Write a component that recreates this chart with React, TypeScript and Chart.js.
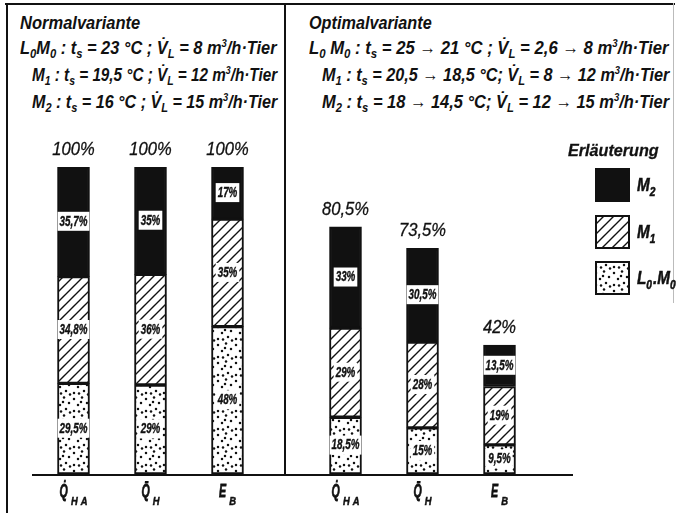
import React, { useEffect, useRef } from "react";
import { Chart, registerables } from "chart.js";
Chart.register(...registerables);

// ---------- data ----------
const categoryMain = ["Q\u0307", "Q\u0304", "E"];
const categorySub = ["HA", "H", "B"];

const normalL0M0 = [29.5, 29, 48];
const normalM1 = [34.8, 36, 35];
const normalM2 = [35.7, 35, 17];

const optimalL0M0 = [18.5, 15, 9.5];
const optimalM1 = [29, 28, 19];
const optimalM2 = [33, 30.5, 13.5];

const yMin = 0;
const yMax = 100;

// legend entries (top to bottom): parts of [text, isSubscript]
const legendTitle = "Erläuterung";
const legendEntries: [string, boolean][][] = [
  [["M", false], ["2", true]],
  [["M", false], ["1", true]],
  [["L", false], ["0", true], [".M", false], ["0", true]],
];

const FONT = '"Liberation Sans", Arimo, "DejaVu Sans", sans-serif';
const INK = "#111";

const fmt = (v: number) => (Math.round(v * 10) / 10).toString().replace(".", ",");

function makeHatch(): CanvasPattern | string {
  const s = 10;
  const c = document.createElement("canvas");
  c.width = s;
  c.height = s;
  const g = c.getContext("2d")!;
  g.fillStyle = "#fff";
  g.fillRect(0, 0, s, s);
  g.strokeStyle = INK;
  g.lineWidth = 1.4;
  g.beginPath();
  g.moveTo(-1, s + 1);
  g.lineTo(s + 1, -1);
  g.moveTo(-2, 2);
  g.lineTo(2, -2);
  g.moveTo(s - 2, s + 2);
  g.lineTo(s + 2, s - 2);
  g.stroke();
  return g.createPattern(c, "repeat") || "#fff";
}

function makeDots(): CanvasPattern | string {
  const s = 18;
  const c = document.createElement("canvas");
  c.width = s;
  c.height = s;
  const g = c.getContext("2d")!;
  g.fillStyle = "#fff";
  g.fillRect(0, 0, s, s);
  g.fillStyle = INK;
  const pts = [
    [2, 3], [10, 1.5], [15, 7], [6, 9], [12, 13], [2, 15], [9, 6], [16, 16.5], [7, 15.5],
  ];
  for (const [x, y] of pts) {
    g.beginPath();
    g.arc(x, y, 1.25, 0, Math.PI * 2);
    g.fill();
  }
  return g.createPattern(c, "repeat") || "#fff";
}

// draw text horizontally condensed by factor sx (optionally emboldened)
function fillScaled(ctx: CanvasRenderingContext2D, text: string, x: number, y: number, sx: number, bold = 0) {
  ctx.save();
  ctx.translate(x, y);
  ctx.scale(sx, 1);
  ctx.fillText(text, 0, 0);
  if (bold > 0) {
    ctx.strokeStyle = ctx.fillStyle as string;
    ctx.lineWidth = bold;
    ctx.strokeText(text, 0, 0);
  }
  ctx.restore();
}

function drawParts(ctx: CanvasRenderingContext2D, parts: [string, boolean][], x: number, y: number, size: number, subSize: number, sx: number) {
  let cx = x;
  ctx.textAlign = "left";
  for (const [t, sub] of parts) {
    ctx.font = `italic bold ${sub ? subSize : size}px ${FONT}`;
    fillScaled(ctx, t, cx, sub ? y + size * 0.28 : y, sx, 0.5);
    cx += ctx.measureText(t).width * sx + (sub ? 1 : 0);
  }
}

const barPlugin = {
  id: "barDecor",
  afterDatasetsDraw(chart: any) {
    const ctx: CanvasRenderingContext2D = chart.ctx;
    const yScale = chart.scales.y;
    const xScale = chart.scales.x;
    ctx.save();
    // segment labels
    const lsx = 0.7;
    chart.data.datasets.forEach((ds: any, di: number) => {
      const meta = chart.getDatasetMeta(di);
      meta.data.forEach((el: any, i: number) => {
        const v = ds.data[i];
        const txt = fmt(v) + "%";
        ctx.font = `italic bold 14px ${FONT}`;
        const w = ctx.measureText(txt).width * lsx;
        const cy = (el.y + el.base) / 2;
        ctx.fillStyle = "#fff";
        ctx.fillRect(el.x - w / 2 - 2, cy - 10, w + 4, 19);
        ctx.fillStyle = INK;
        ctx.textAlign = "center";
        ctx.textBaseline = "middle";
        fillScaled(ctx, txt, el.x, cy, lsx, 0.4);
      });
    });
    // totals above bars
    const n = chart.data.labels.length;
    for (let i = 0; i < n; i++) {
      let total = 0;
      chart.data.datasets.forEach((ds: any) => (total += ds.data[i]));
      const x = xScale.getPixelForValue(i);
      const y = yScale.getPixelForValue(total);
      ctx.font = `italic 18px ${FONT}`;
      ctx.fillStyle = INK;
      ctx.textAlign = "center";
      ctx.textBaseline = "middle";
      fillScaled(ctx, fmt(total) + "%", x, y - 17, 0.92, 0.3);
    }
    // category labels with subscripts
    const msx = 0.56;
    const ssx = 0.85;
    const gap = 3;
    for (let i = 0; i < n; i++) {
      const x = xScale.getPixelForValue(i);
      const main = categoryMain[i];
      const sub = categorySub[i];
      ctx.textAlign = "left";
      ctx.textBaseline = "alphabetic";
      ctx.fillStyle = INK;
      ctx.font = `italic bold 19px ${FONT}`;
      const wm = ctx.measureText(main).width * msx;
      ctx.font = `italic bold 11px ${FONT}`;
      let ws = 0;
      for (const ch of sub) ws += ctx.measureText(ch).width * ssx + gap;
      const x0 = x - (wm + ws) / 2;
      const base = yScale.getPixelForValue(0) + 23;
      ctx.font = `italic bold 19px ${FONT}`;
      fillScaled(ctx, main, x0, base, msx, 0.8);
      ctx.font = `italic bold 11px ${FONT}`;
      let sx = x0 + wm + 3;
      for (const ch of sub) {
        fillScaled(ctx, ch, sx, base + 8, ssx, 0.5);
        sx += ctx.measureText(ch).width * ssx + gap;
      }
    }
    ctx.restore();
  },
};

const baselinePlugin = {
  id: "baseline",
  afterDraw(chart: any) {
    const ctx: CanvasRenderingContext2D = chart.ctx;
    const y0 = chart.scales.y.getPixelForValue(0);
    ctx.save();
    ctx.strokeStyle = INK;
    ctx.lineWidth = 2;
    ctx.beginPath();
    ctx.moveTo(32, y0 + 1);
    ctx.lineTo(573, y0 + 1);
    ctx.stroke();
    ctx.restore();
  },
};

const legendPlugin = {
  id: "customLegend",
  afterDraw(chart: any) {
    const ctx: CanvasRenderingContext2D = chart.ctx;
    ctx.save();
    ctx.fillStyle = INK;
    ctx.textAlign = "left";
    ctx.textBaseline = "alphabetic";
    ctx.font = `italic bold 17px ${FONT}`;
    fillScaled(ctx, legendTitle, 568, 156, 0.95, 0.3);
    const order = [2, 1, 0];
    const tops = [169, 216, 262];
    order.forEach((di, k) => {
      const ds = chart.data.datasets[di];
      ctx.fillStyle = ds.backgroundColor;
      ctx.fillRect(596, tops[k], 33, 32);
      ctx.strokeStyle = INK;
      ctx.lineWidth = 2;
      ctx.strokeRect(596, tops[k], 33, 32);
      ctx.fillStyle = INK;
      drawParts(ctx, legendEntries[k], 637, tops[k] + 22, 18, 12, 0.85);
    });
    ctx.restore();
  },
};

function makeConfig(l0: number[], m1: number[], m2: number[], padding: any, plugins: any[]) {
  const hatch = makeHatch();
  const dots = makeDots();
  const common = { borderColor: INK, borderWidth: 2, borderSkipped: false, barThickness: 32 };
  return {
    type: "bar" as const,
    data: {
      labels: categoryMain.map((m, i) => m + categorySub[i]),
      datasets: [
        { label: "L0.M0", data: l0, backgroundColor: dots, ...common },
        { label: "M1", data: m1, backgroundColor: hatch, ...common },
        { label: "M2", data: m2, backgroundColor: INK, ...common },
      ],
    },
    options: {
      animation: false as const,
      responsive: false,
      layout: { padding },
      plugins: { legend: { display: false }, tooltip: { enabled: false } },
      scales: {
        x: { stacked: true, display: false, offset: true },
        y: { stacked: true, display: false, min: yMin, max: yMax },
      },
    },
    plugins,
  };
}

const sub: React.CSSProperties = { fontSize: "13px", verticalAlign: "-4px", lineHeight: 0 };
const sup: React.CSSProperties = { fontSize: "11px", verticalAlign: "7px", lineHeight: 0 };
const hdr: React.CSSProperties = {
  position: "absolute",
  font: `italic bold 19px ${FONT}`,
  whiteSpace: "nowrap",
  lineHeight: "26px",
  color: INK,
  transformOrigin: "0 50%",
};

export default function App() {
  const leftRef = useRef<HTMLCanvasElement>(null);
  const rightRef = useRef<HTMLCanvasElement>(null);
  const boxRef = useRef<HTMLDivElement>(null);

  useEffect(() => {
    // condense header lines to their target widths
    boxRef.current!.querySelectorAll<HTMLElement>("[data-tw]").forEach((el) => {
      const tw = Number(el.dataset.tw);
      const w = el.offsetWidth;
      if (w > 0) el.style.transform = `scaleX(${tw / w})`;
    });
    const left = new Chart(
      leftRef.current!,
      makeConfig(normalL0M0, normalM1, normalM2, { left: 35, right: 412, top: 167, bottom: 41 }, [barPlugin, baselinePlugin]) as any
    );
    const right = new Chart(
      rightRef.current!,
      makeConfig(optimalL0M0, optimalM1, optimalM2, { left: 307, right: 140, top: 167, bottom: 41 }, [barPlugin, legendPlugin]) as any
    );
    return () => {
      left.destroy();
      right.destroy();
    };
  }, []);

  const V = "V\u0307";
  return (
    <div ref={boxRef} style={{ position: "fixed", left: 0, top: 0, width: 678, height: 515, background: "#fff", overflow: "hidden" }}>
      {/* frame */}
      <div style={{ position: "absolute", left: 5, top: 3, width: 670, height: 2, background: INK }} />
      <div style={{ position: "absolute", left: 6, top: 3, width: 2, height: 510, background: INK }} />
      <div style={{ position: "absolute", left: 284, top: 3, width: 2, height: 473, background: INK }} />
      <div style={{ position: "absolute", left: 673, top: 3, width: 1, height: 300, background: "#bbb" }} />

      {/* left header */}
      <div data-tw="120" style={{ ...hdr, left: 20, top: 10 }}>Normalvariante</div>
      <div data-tw="257" style={{ ...hdr, left: 20, top: 35 }}>
        L<span style={sub}>0</span>M<span style={sub}>0</span> : t<span style={sub}>s</span> = 23 °C ; {V}
        <span style={sub}>L</span> = 8 m<span style={sup}>3</span>/h·Tier
      </div>
      <div data-tw="245" style={{ ...hdr, left: 32, top: 62 }}>
        M<span style={sub}>1</span> : t<span style={sub}>s</span> = 19,5 °C ; {V}
        <span style={sub}>L</span> = 12 m<span style={sup}>3</span>/h·Tier
      </div>
      <div data-tw="245" style={{ ...hdr, left: 32, top: 89 }}>
        M<span style={sub}>2</span> : t<span style={sub}>s</span> = 16 °C ; {V}
        <span style={sub}>L</span> = 15 m<span style={sup}>3</span>/h·Tier
      </div>

      {/* right header */}
      <div data-tw="123" style={{ ...hdr, left: 309, top: 10 }}>Optimalvariante</div>
      <div data-tw="359" style={{ ...hdr, left: 309, top: 35 }}>
        L<span style={sub}>0</span> M<span style={sub}>0</span> : t<span style={sub}>s</span> = 25 → 21 °C ; {V}
        <span style={sub}>L</span> = 2,6 → 8 m<span style={sup}>3</span>/h·Tier
      </div>
      <div data-tw="347" style={{ ...hdr, left: 322, top: 62 }}>
        M<span style={sub}>1</span> : t<span style={sub}>s</span> = 20,5 → 18,5 °C; {V}
        <span style={sub}>L</span> = 8 → 12 m<span style={sup}>3</span>/h·Tier
      </div>
      <div data-tw="347" style={{ ...hdr, left: 322, top: 89 }}>
        M<span style={sub}>2</span> : t<span style={sub}>s</span> = 18 → 14,5 °C; {V}
        <span style={sub}>L</span> = 12 → 15 m<span style={sup}>3</span>/h·Tier
      </div>

      <canvas ref={leftRef} width={678} height={515} style={{ position: "absolute", left: 0, top: 0 }} />
      <canvas ref={rightRef} width={678} height={515} style={{ position: "absolute", left: 0, top: 0 }} />
    </div>
  );
}
